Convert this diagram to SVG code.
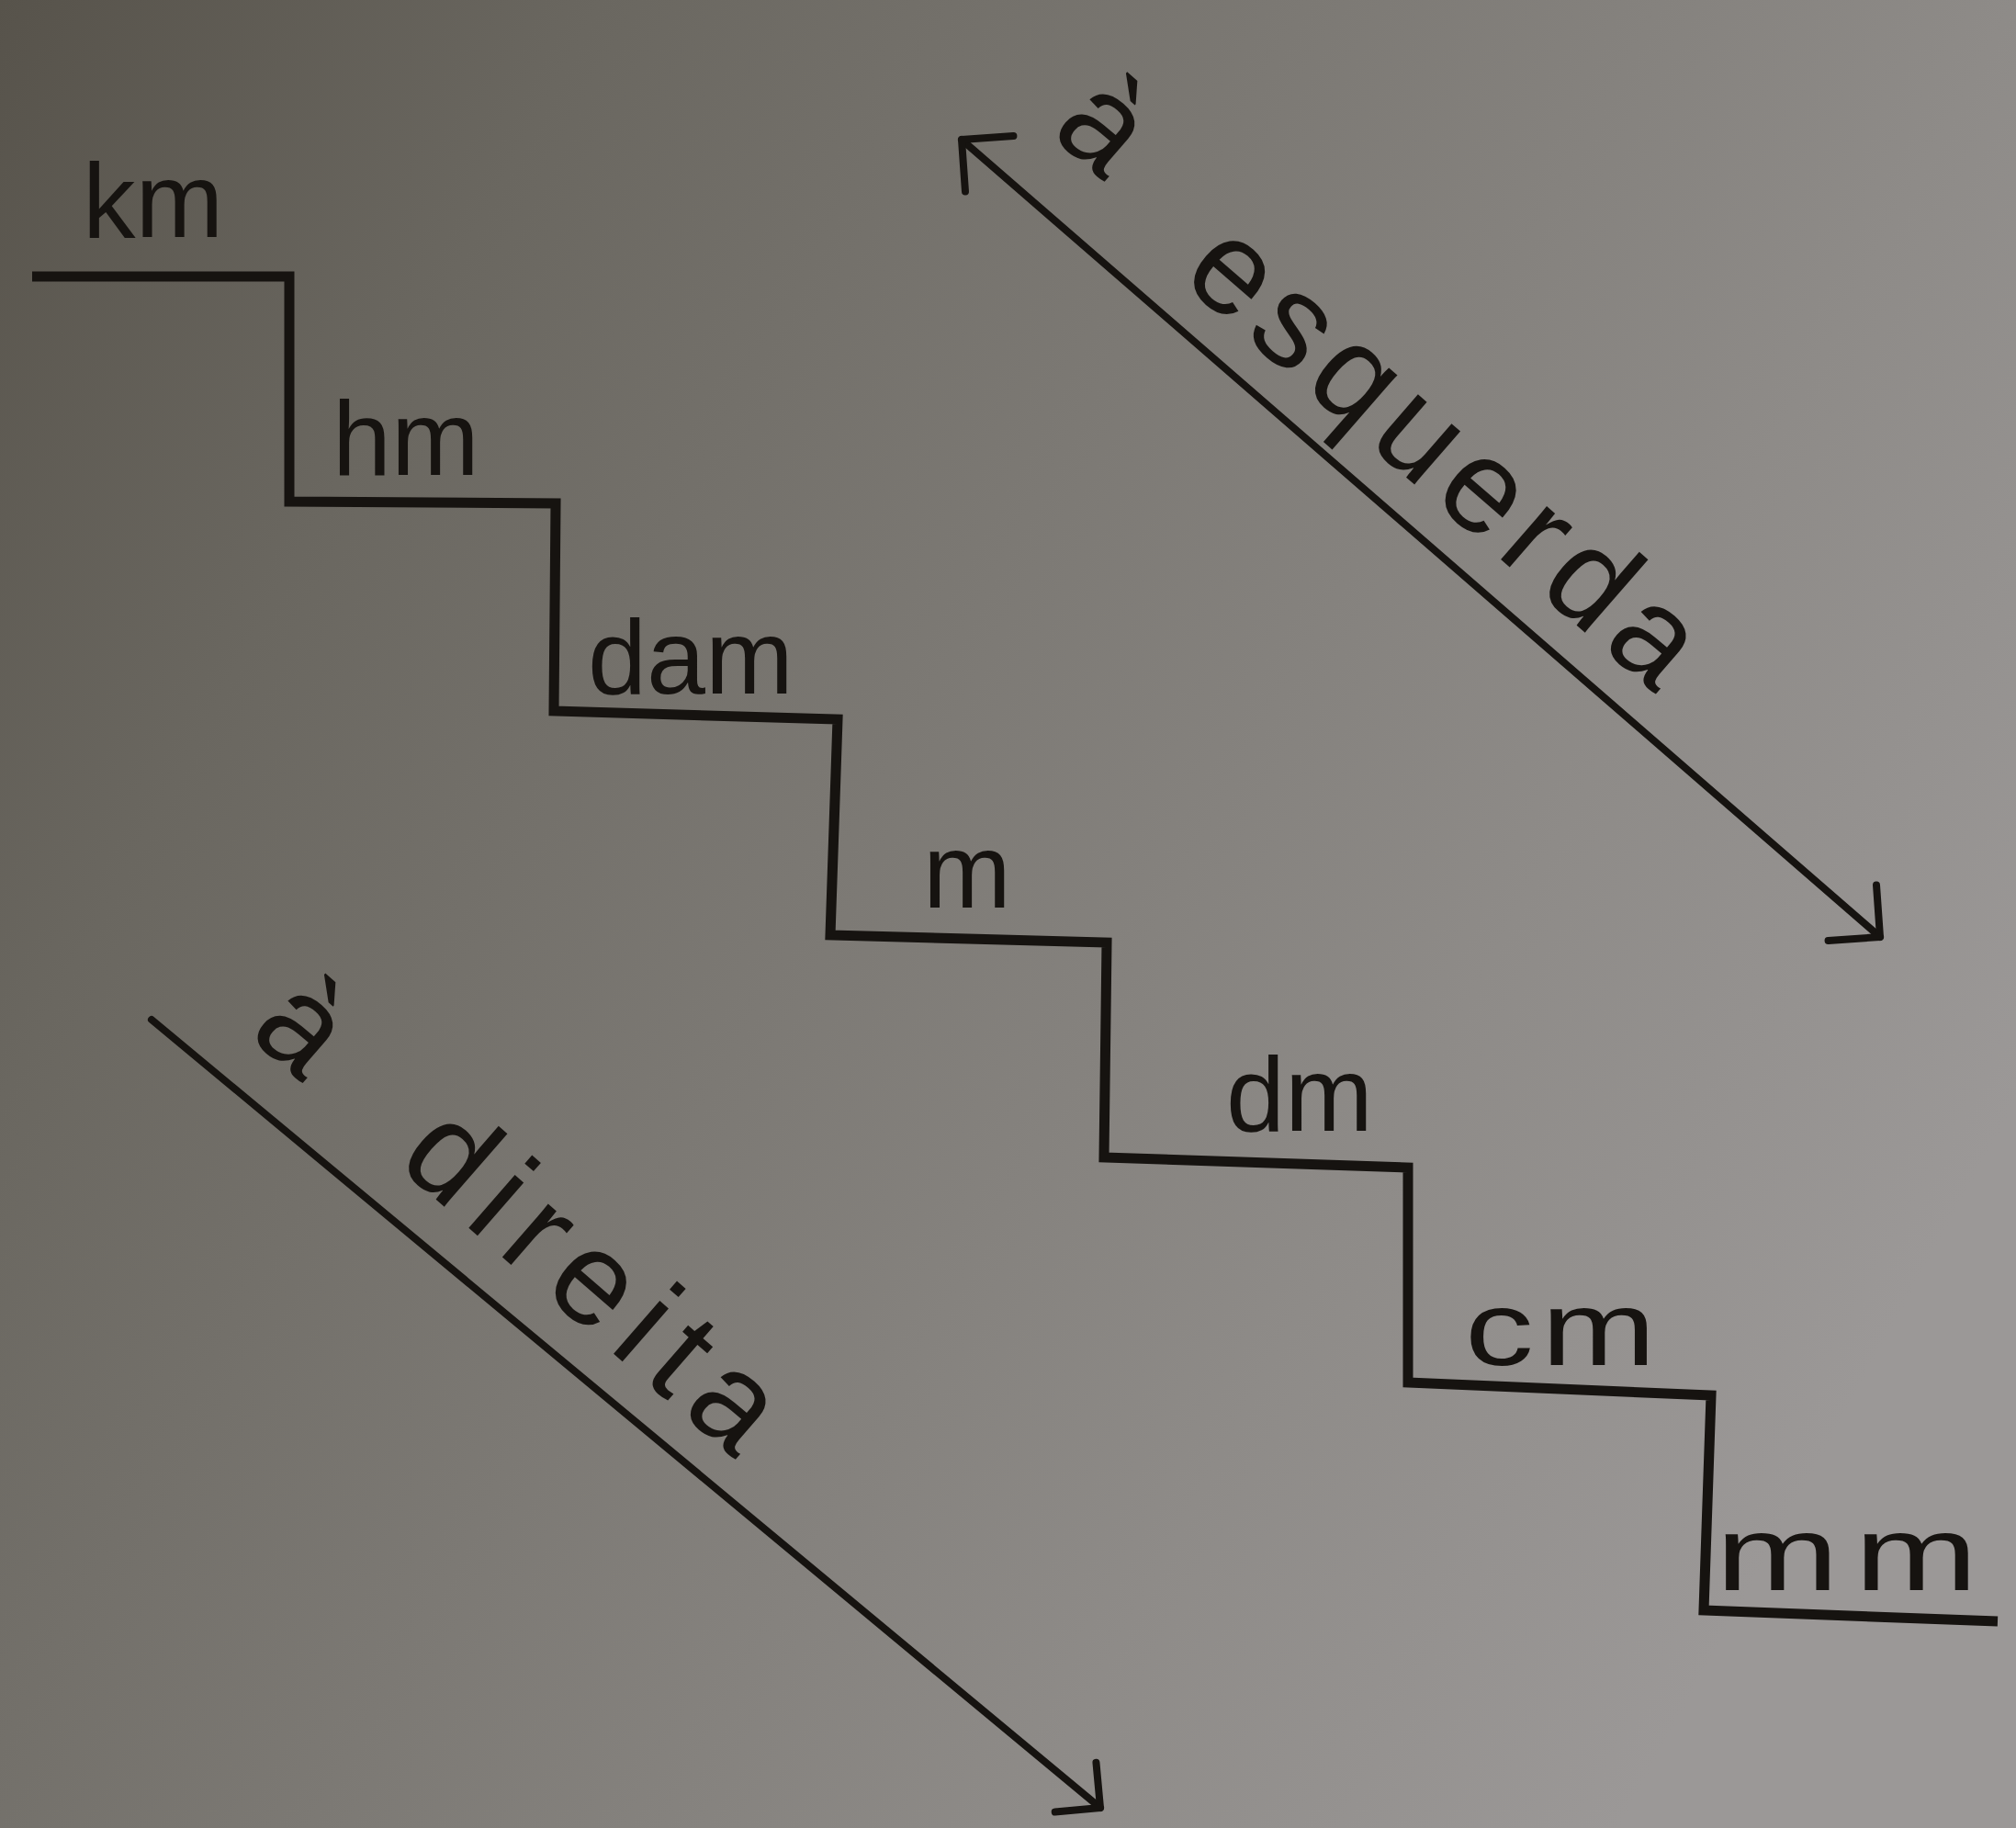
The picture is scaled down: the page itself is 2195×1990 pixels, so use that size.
<svg xmlns="http://www.w3.org/2000/svg" width="2195" height="1990" viewBox="0 0 2195 1990">
  <defs>
    <linearGradient id="paper" gradientUnits="userSpaceOnUse" x1="0" y1="0" x2="2195" y2="1200">
      <stop offset="0" stop-color="#57534b"/>
      <stop offset="0.23" stop-color="#6a6760"/>
      <stop offset="0.77" stop-color="#8e8b88"/>
      <stop offset="1" stop-color="#9b9897"/>
    </linearGradient>
    <marker id="headL" markerUnits="userSpaceOnUse" viewBox="-70 -70 80 140" refX="0" refY="0" markerWidth="80" markerHeight="140" orient="auto-start-reverse">
      <path d="M -40 -40 L 0 0 L -40 40" fill="none" stroke="#161310" stroke-width="8" stroke-linecap="round" stroke-linejoin="round"/>
    </marker>
    <marker id="headS" markerUnits="userSpaceOnUse" viewBox="-70 -70 80 140" refX="0" refY="0" markerWidth="80" markerHeight="140" orient="auto-start-reverse">
      <path d="M -35 -35 L 0 0 L -35 35" fill="none" stroke="#161310" stroke-width="8" stroke-linecap="round" stroke-linejoin="round"/>
    </marker>
  </defs>
  <style>
    .stair { fill: none; stroke: #161310; stroke-width: 11; stroke-linejoin: miter; stroke-linecap: butt; }
    .arrow { fill: none; stroke: #161310; stroke-width: 8; stroke-linecap: round; }
    .lbl { font-family: "Liberation Sans", "DejaVu Sans", sans-serif; font-size: 115px; fill: #161310; }
    .dir { font-family: "Liberation Sans", "DejaVu Sans", sans-serif; font-size: 145px; fill: #161310; }
  </style>
  <rect x="0" y="0" width="2195" height="1990" fill="url(#paper)"/>

  <g id="staircase">
    <path class="stair" d="M 35 301 L 315 301 L 315 546 L 605 548 L 603 774 L 912 783 L 904 1018 L 1205 1026 L 1202 1260 L 1533 1271 L 1533 1505 L 1863 1519 L 1855 1753 L 2175 1765"/>
  </g>

  <g id="step-km"><text class="lbl" x="90" y="258">km</text></g>
  <g id="step-hm"><text class="lbl" x="362" y="517">hm</text></g>
  <g id="step-dam"><text class="lbl" x="640" y="755">dam</text></g>
  <g id="step-m"><text class="lbl" x="1005" y="988">m</text></g>
  <g id="step-dm"><text class="lbl" x="1335" y="1231">dm</text></g>
  <g id="step-cm"><text class="lbl" transform="translate(1595,1486) scale(1.3,1)" x="0 64">cm</text></g>
  <g id="step-mm"><text class="lbl" transform="translate(1868,1731) scale(1.4,1)" x="0 108">mm</text></g>

  <g id="connectors">
    <line class="arrow" x1="1047" y1="152" x2="2047" y2="1020" marker-start="url(#headL)" marker-end="url(#headL)"/>
    <line class="arrow" x1="165" y1="1110" x2="1198" y2="1968" marker-end="url(#headS)"/>
  </g>

  <g id="label-esquerda">
    <text class="dir" transform="translate(1283,304) rotate(41)"><tspan x="-211" y="-27">à</tspan><tspan x="0" y="0" letter-spacing="12">esquerda</tspan></text>
  </g>
  <g id="label-direita">
    <text class="dir" transform="translate(430,1267) rotate(41)"><tspan x="-214" y="0">à</tspan><tspan x="0" y="0" letter-spacing="16">direita</tspan></text>
  </g>
</svg>
